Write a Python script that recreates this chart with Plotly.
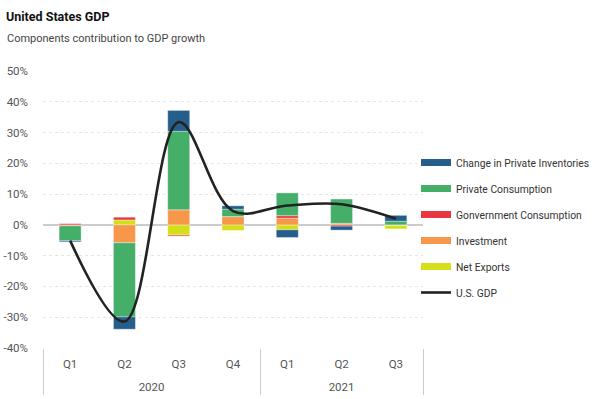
import plotly.graph_objects as go

quarters = ["Q1", "Q2", "Q3", "Q4", "Q1", "Q2", "Q3"]
years = ["2020", "2020", "2020", "2020", "2021", "2021", "2021"]

net_exports = [0.0, 1.6, -3.3, -1.8, -1.6, 0.0, -1.3]
investment = [-0.3, -5.8, 4.9, 2.7, 2.2, 0.5, 0.0]
government = [0.4, 0.9, -0.35, 0.0, 0.8, -0.4, 0.0]
private_consumption = [-4.8, -24.1, 25.5, 2.4, 7.4, 7.9, 1.2]
inventories = [-0.4, -4.0, 6.8, 1.1, -2.5, -1.3, 1.9]
gdp = [-5.1, -31.4, 33.4, 4.5, 6.3, 6.7, 2.0]

y_ticks = [-40, -30, -20, -10, 0, 10, 20, 30, 40, 50]

C_INV = "#255E8A"
C_PC = "#45AF6A"
C_GOV = "#E8373F"
C_INVEST = "#F7974A"
C_NX = "#D4E017"
C_GDP = "#222222"

FONT = "Roboto, sans-serif"

# second row labels pushed down one line, as in the reference
year_labels = ["<br>" + y for y in years]
x = [year_labels, quarters]
fig = go.Figure()

# bars, stacking order from zero outward
for name, vals, col in [
    ("Net Exports", net_exports, C_NX),
    ("Investment", investment, C_INVEST),
    ("Gonvernment Consumption", government, C_GOV),
    ("Private Consumption", private_consumption, C_PC),
    ("Change in Private Inventories", inventories, C_INV),
]:
    fig.add_trace(go.Bar(x=x, y=vals, name=name, marker_color=col,
                         marker_line=dict(color="rgba(255,255,255,0.6)", width=0.6),
                         showlegend=False))

# legend entries (wide swatches)
for name, col in [
    ("Change in Private Inventories", C_INV),
    ("Private Consumption", C_PC),
    ("Gonvernment Consumption", C_GOV),
    ("Investment", C_INVEST),
    ("Net Exports", C_NX),
]:
    fig.add_trace(go.Scatter(x=x, y=[None] * len(quarters), mode="lines",
                             line=dict(color=col, width=7), name=name,
                             legendgroup=name, hoverinfo="skip"))

fig.add_trace(go.Scatter(x=x, y=gdp, mode="lines", name="U.S. GDP",
                         line=dict(color=C_GDP, width=2.6, shape="spline", smoothing=1.0),
                         legendgroup="gdp"))

L, R, T, B = 43, 176, 71, 51
W, H = 599, 399
pw = W - L - R
ph = H - T - B

fig.update_layout(
    width=W, height=H,
    margin=dict(l=L, r=R, t=T, b=B, autoexpand=False),
    paper_bgcolor="white", plot_bgcolor="white",
    barmode="relative", bargap=0.595,
    font=dict(family=FONT, size=12, color="#555"),
    title=dict(text="<b>United States GDP</b>", x=6 / W, xanchor="left",
               xref="container", y=1 - 17 / H, yanchor="middle", yref="container",
               font=dict(family=FONT, size=12.5, color="#111")),
    legend=dict(x=(416 - L) / pw, xanchor="left", y=(H - B - 148) / ph, yanchor="top",
                traceorder="grouped", tracegroupgap=7,
                font=dict(family=FONT, size=10.3, color="#333"),
                bgcolor="rgba(0,0,0,0)"),
    annotations=[dict(text="Components contribution to GDP growth", xref="paper", yref="paper",
                      x=(5 - L) / pw, xanchor="left", y=(H - B - 38) / ph, yanchor="middle",
                      showarrow=False, font=dict(family=FONT, size=11, color="#444"))],
)

fig.update_yaxes(range=[-40, 50], tickvals=y_ticks, ticktext=[f"{v}%" for v in y_ticks],
                 showgrid=True, gridcolor="#e6e6e6", griddash="dot", gridwidth=1,
                 zeroline=True, zerolinecolor="#cccccc", zerolinewidth=1.5,
                 showline=False, ticks="", ticklabelstandoff=14, automargin=False,
                 tickfont=dict(family=FONT, size=11.5, color="#555"))
fig.update_xaxes(type="multicategory", showgrid=False, showline=False, ticks="",
                 showdividers=True, dividercolor="#cccccc", dividerwidth=1,
                 automargin=False, ticklabelstandoff=7,
                 tickfont=dict(family=FONT, size=11.5, color="#555"))

fig.write_html("out.html", post_script="document.body.style.margin='0';",
               config={"displayModeBar": False})
